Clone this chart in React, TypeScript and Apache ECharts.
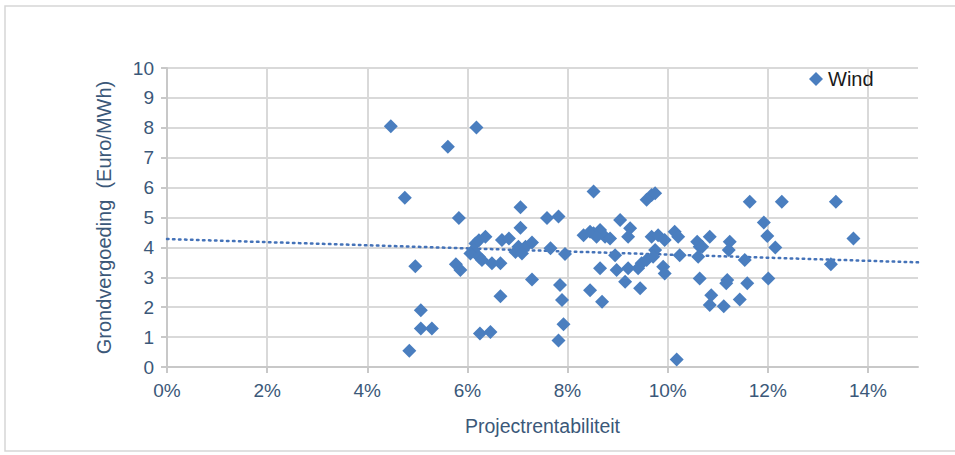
import React, { useEffect, useRef } from "react";
import * as echarts from "echarts";

// Projectrentabiliteit (%) per project
const xValues: number[] = [
  4.47, 6.18, 5.61, 4.75, 7.06, 5.83, 7.59, 7.82, 7.06,
  4.96, 5.77, 5.86,
  6.16, 6.23, 6.36, 6.12, 6.06, 6.23, 6.29, 6.49, 6.66,
  6.69, 6.83,
  6.96, 7.02, 7.16, 7.29, 7.09,
  7.66, 7.95, 7.29, 6.66, 7.85, 7.89, 7.92, 7.82,
  5.07, 5.07, 5.29, 4.84, 6.25, 6.46,
  8.52, 9.58, 9.68, 9.75, 9.05, 9.25, 9.21,
  8.32, 8.45, 8.52, 8.65, 8.75, 8.85, 8.58,
  8.95, 8.98, 8.65, 9.21, 9.41, 9.48, 9.58,
  9.15, 9.45, 8.45, 8.69,
  9.68, 9.81, 9.94, 10.14, 10.21, 9.75, 9.71, 9.91, 9.94,
  10.24, 10.18, 10.64, 10.61, 10.64,
  11.64, 12.28, 13.36, 11.92, 11.99, 12.15,
  10.59, 10.69, 10.84, 11.24, 11.22, 11.54,
  11.19, 11.17, 11.59, 12.01, 10.87, 10.84, 11.12, 11.44, 13.26, 13.71,
];

// Grondvergoeding (Euro/MWh) per project
const yValues: number[] = [
  8.05, 8.01, 7.37, 5.66, 5.34, 4.98, 4.98, 5.03, 4.66,
  3.37, 3.44, 3.24,
  4.13, 4.24, 4.36, 3.91, 3.80, 3.69, 3.58, 3.47, 3.47,
  4.25, 4.30,
  3.85, 4.02, 4.02, 4.16, 3.80,
  3.97, 3.78, 2.93, 2.37, 2.74, 2.24, 1.43, 0.89,
  1.90, 1.29, 1.29, 0.54, 1.12, 1.17,
  5.87, 5.59, 5.75, 5.81, 4.92, 4.64, 4.36,
  4.41, 4.52, 4.47, 4.58, 4.36, 4.30, 4.36,
  3.74, 3.24, 3.30, 3.30, 3.30, 3.47, 3.58,
  2.85, 2.63, 2.57, 2.18,
  4.36, 4.41, 4.25, 4.52, 4.36, 3.91, 3.69, 3.35, 3.13,
  3.74, 0.25, 4.02, 3.69, 2.96,
  5.53, 5.53, 5.53, 4.83, 4.38, 4.00,
  4.19, 4.02, 4.36, 4.19, 3.91, 3.58,
  2.91, 2.80, 2.80, 2.96, 2.40, 2.07, 2.03, 2.26, 3.44, 4.30,
];

// Trendline end points
const trendX: number[] = [0, 15];
const trendY: number[] = [4.28, 3.5];

const xTicks: number[] = [0, 2, 4, 6, 8, 10, 12, 14];
const yTicks: number[] = [0, 1, 2, 3, 4, 5, 6, 7, 8, 9, 10];

const seriesName = "Wind";
const xTitle = "Projectrentabiliteit";
const yTitle = "Grondvergoeding  (Euro/MWh)";

const FONT = "'Liberation Sans', Arial, sans-serif";
const LABEL_COLOR = "#3b5879";
const MARK_COLOR = "#4a7ebf";

export default function App() {
  const ref = useRef<HTMLDivElement>(null);

  useEffect(() => {
    if (!ref.current) return;
    const chart = echarts.init(ref.current, undefined, { renderer: "svg" });
    const scatterData = xValues.map((x, i) => [x, yValues[i]]);
    const trendData = trendX.map((x, i) => [x, trendY[i]]);

    chart.setOption({
      animation: false,
      backgroundColor: "#ffffff",
      textStyle: { fontFamily: FONT },
      graphic: [
        {
          type: "rect",
          shape: { x: 5, y: 6, width: 960, height: 445 },
          style: { fill: "none", stroke: "#d6d6d6", lineWidth: 1.5 },
          silent: true,
          z: -10,
        },
      ],
      grid: { left: 167, right: 37, top: 68, bottom: 88, containLabel: false },
      legend: {
        data: [{ name: seriesName, icon: "diamond" }],
        left: 804,
        top: 64,
        itemWidth: 14,
        itemHeight: 14,
        itemGap: 4,
        textStyle: { fontFamily: FONT, fontSize: 20, color: "#1a1a1a" },
      },
      xAxis: {
        type: "value",
        min: 0,
        max: 15,
        interval: 2,
        name: xTitle,
        nameLocation: "middle",
        nameGap: 49,
        nameTextStyle: { fontFamily: FONT, fontSize: 19.5, color: LABEL_COLOR },
        axisLine: { show: true, lineStyle: { color: "#c8c8c8", width: 2 } },
        axisTick: {
          show: true,
          length: 6,
          customValues: xTicks,
          lineStyle: { color: "#c8c8c8", width: 2 },
        },
        axisLabel: {
          customValues: xTicks,
          formatter: (v: number) => `${v}%`,
          fontFamily: FONT,
          fontSize: 19,
          color: LABEL_COLOR,
          margin: 14,
        },
        splitLine: {
          show: true,
          lineStyle: { color: "#d9d9d9", width: 2 },
        },
      },
      yAxis: {
        type: "value",
        min: 0,
        max: 10,
        interval: 1,
        name: yTitle,
        nameLocation: "middle",
        nameGap: 53,
        nameRotate: 90,
        nameTextStyle: { fontFamily: FONT, fontSize: 20, color: LABEL_COLOR },
        axisLine: { show: true, lineStyle: { color: "#c8c8c8", width: 2 } },
        axisTick: {
          show: true,
          length: 6,
          customValues: yTicks,
          lineStyle: { color: "#c8c8c8", width: 2 },
        },
        axisLabel: {
          customValues: yTicks,
          fontFamily: FONT,
          fontSize: 19,
          color: LABEL_COLOR,
          margin: 13,
        },
        splitLine: { show: true, lineStyle: { color: "#d9d9d9", width: 2 } },
      },
      series: [
        {
          name: "Trend",
          type: "line",
          data: trendData,
          showSymbol: false,
          symbol: "none",
          silent: true,
          z: 1,
          lineStyle: { color: "#4472b8", width: 2.5, type: [1.5, 4.5], cap: "round" },
        },
        {
          name: seriesName,
          type: "scatter",
          data: scatterData,
          symbol: "diamond",
          symbolSize: 14,
          z: 3,
          itemStyle: { color: MARK_COLOR, opacity: 1 },
        },
      ],
    });

    return () => {
      chart.dispose();
    };
  }, []);

  return (
    <div
      ref={ref}
      style={{ position: "fixed", left: 0, top: 0, width: 955, height: 455 }}
    />
  );
}
